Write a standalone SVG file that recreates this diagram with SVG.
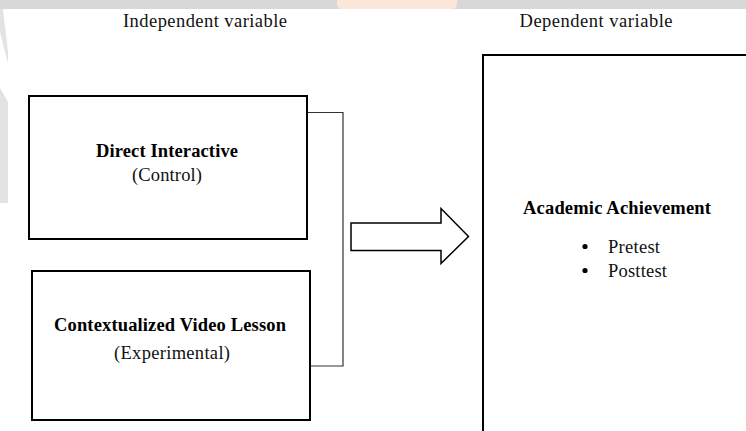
<svg xmlns="http://www.w3.org/2000/svg" width="746" height="431" viewBox="0 0 746 431">
  <style>
    .box { fill: #ffffff; stroke: #000000; stroke-width: 2; }
    .conn { fill: none; stroke: #333333; stroke-width: 1.2; }
    .reg { font-family: "Liberation Serif", "Times New Roman", serif; font-size: 18.5px; fill: #111111; }
    .bold { font-family: "Liberation Serif", "Times New Roman", serif; font-size: 18.5px; font-weight: bold; fill: #000000; }
    .wm { fill: #e3e3e3; }
  </style>
  <rect width="746" height="431" fill="#ffffff"/>
  <!-- watermark remnants -->
  <g id="watermark">
    <rect x="0" y="0" width="746" height="9" fill="#d8d8d8"/>
    <path d="M337 0 H457 V3 Q457 9 451 9 H343 Q337 9 337 3 Z" fill="#fde6da"/>
    <polygon class="wm" points="0,9 3,9 8,52 8,64 0,32"/>
    <polygon class="wm" points="0,88 8,102 8,203 0,203"/>
  </g>

  <text class="reg" x="205" y="27" text-anchor="middle" textLength="164" lengthAdjust="spacing">Independent variable</text>
  <text class="reg" x="596" y="27" text-anchor="middle" textLength="153" lengthAdjust="spacing">Dependent variable</text>

  <g id="connectors">
    <polyline class="conn" points="307,112.5 343,112.5 343,366 310,366"/>
    <polygon points="351,223 441,223 441,208.5 468.5,236.5 441,263.5 441,250.5 351,250.5" fill="#ffffff" stroke="#000000" stroke-width="1.5" stroke-linejoin="miter"/>
  </g>

  <g id="node-direct">
    <rect class="box" x="29" y="96" width="278" height="143"/>
    <text class="bold" x="167" y="157" text-anchor="middle" textLength="142" lengthAdjust="spacing">Direct Interactive</text>
    <text class="reg" x="167" y="181" text-anchor="middle" textLength="70" lengthAdjust="spacing">(Control)</text>
  </g>

  <g id="node-video">
    <rect class="box" x="32" y="271" width="278" height="149"/>
    <text class="bold" x="170" y="331" text-anchor="middle" textLength="232" lengthAdjust="spacing">Contextualized Video Lesson</text>
    <text class="reg" x="172" y="359" text-anchor="middle" textLength="116" lengthAdjust="spacing">(Experimental)</text>
  </g>

  <g id="node-academic">
    <rect class="box" x="483" y="55" width="300" height="400"/>
    <text class="bold" x="617" y="214" text-anchor="middle" textLength="188" lengthAdjust="spacing">Academic Achievement</text>
    <circle cx="585" cy="246.5" r="2.6" fill="#000000"/>
    <text class="reg" x="608" y="252.5" textLength="52" lengthAdjust="spacing">Pretest</text>
    <circle cx="585" cy="270.5" r="2.6" fill="#000000"/>
    <text class="reg" x="608" y="276.5" textLength="59" lengthAdjust="spacing">Posttest</text>
  </g>
</svg>
